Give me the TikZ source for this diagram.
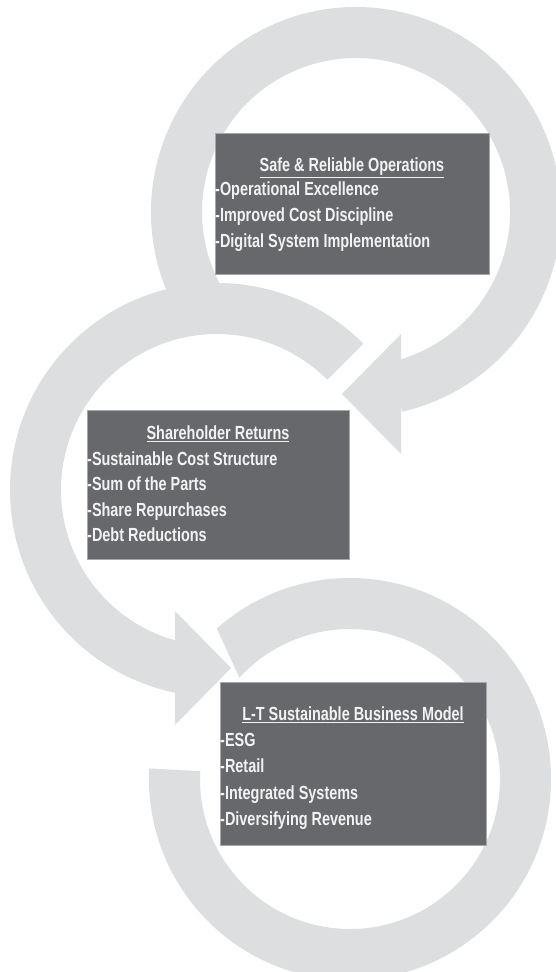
\documentclass[tikz,border=0pt]{standalone}
\usepackage{fontspec}
\usetikzlibrary{calc}
\newfontfamily\boxfont{Liberation Sans}[FakeStretch=0.76]
\definecolor{ringgray}{HTML}{DDDEE0}
\definecolor{boxgray}{HTML}{67686C}
\definecolor{boxedge}{HTML}{A8A8AC}
\definecolor{txtwhite}{HTML}{F2F2F2}
\begin{document}
\begin{tikzpicture}[x=1pt,y=-1pt,
  ring/.style={fill=ringgray},
  box/.style={fill=boxgray, draw=boxedge, line width=0.8pt, inner sep=0pt, anchor=north west},
  boxtitle/.style={inner sep=0pt, anchor=base, text=txtwhite, font=\boxfont\bfseries\fontsize{19}{22}\selectfont},
  boxitem/.style={inner sep=0pt, anchor=base west, text=txtwhite, font=\boxfont\bfseries\fontsize{19}{22}\selectfont}]
\useasboundingbox (0,0) rectangle (555,972);
\fill[white] (0,0) rectangle (555,972);
\coordinate (c1) at (356,212);
\coordinate (c2) at (217,490);
\coordinate (c3) at (350,779);
% ring 1
\fill[ring] ($(c1)+(150:205)$) arc[start angle=150, end angle=437, radius=205]
  -- ($(c1)+(437:154)$) arc[start angle=437, end angle=150, radius=154] -- cycle;
\fill[ring] (401,334) -- (342,394) -- (401,454) -- cycle;
% ring 2
\fill[ring] ($(c2)+(315:207)$) arc[start angle=315, end angle=101, radius=207]
  -- ($(c2)+(101:156)$) arc[start angle=101, end angle=315, radius=156] -- cycle;
\fill[ring] (175,611) -- (231,668) -- (175,725) -- cycle;
% ring 3
\fill[ring] ($(c3)+(228.5:201)$) arc[start angle=228.5, end angle=543, radius=201]
  -- ($(c3)+(543:150)$) arc[start angle=543, end angle=222.5, radius=150] -- cycle;
% box 1
\node[box, minimum width=274pt, minimum height=141pt] (b1) at (215,133) {};
\node[boxtitle] (t1) at (352,171.5) {\underline{Safe \& Reliable Operations}};
\node[boxitem] (i11) at (215,195.5) {-Operational Excellence};
\node[boxitem] (i12) at (215,221.5) {-Improved Cost Discipline};
\node[boxitem] (i13) at (215,247) {-Digital System Implementation};
% box 2
\node[box, minimum width=262pt, minimum height=149pt] (b2) at (87,410) {};
\node[boxtitle] (t2) at (218,439.5) {\underline{Shareholder Returns}};
\node[boxitem] (i21) at (87,465) {-Sustainable Cost Structure};
\node[boxitem] (i22) at (87,490.5) {-Sum of the Parts};
\node[boxitem] (i23) at (87,516) {-Share Repurchases};
\node[boxitem] (i24) at (87,541.5) {-Debt Reductions};
% box 3
\node[box, minimum width=266pt, minimum height=163pt] (b3) at (220,682) {};
\node[boxtitle] (t3) at (353,720.5) {\underline{L-T Sustainable Business Model}};
\node[boxitem] (i31) at (220,746.5) {-ESG};
\node[boxitem] (i32) at (220,772.5) {-Retail};
\node[boxitem] (i33) at (220,799) {-Integrated Systems};
\node[boxitem] (i34) at (220,825) {-Diversifying Revenue};
\end{tikzpicture}
\end{document}
